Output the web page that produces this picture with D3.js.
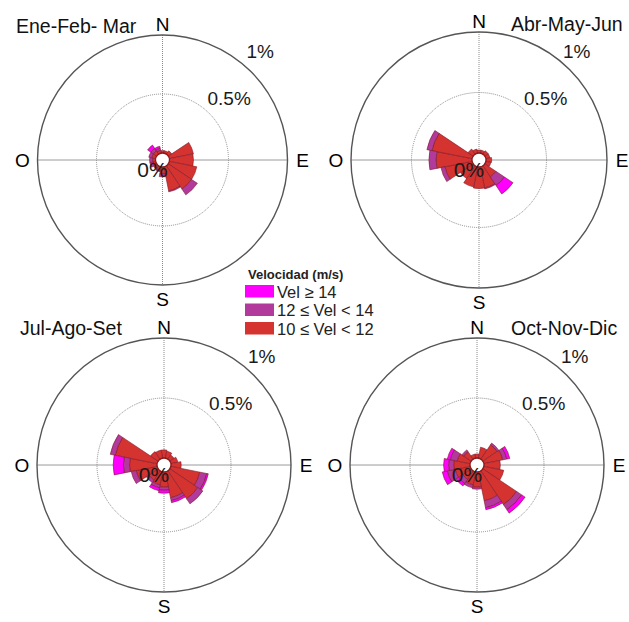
<!DOCTYPE html>
<html>
<head>
<meta charset="utf-8">
<script src="https://cdn.jsdelivr.net/npm/d3@7"></script>
<style>
html,body{margin:0;padding:0;background:#fff;}
svg{display:block;font-family:"Liberation Sans",Arial,sans-serif;}
</style>
</head>
<body>
<svg id="chart" width="629" height="622"></svg>
<script>
// ---- data ----
const directions = ["N","NNE","NE","ENE","E","ESE","SE","SSE","S","SSW","SW","WSW","W","WNW","NW","NNW"];
const seasons = ["Ene-Feb- Mar","Abr-May-Jun","Jul-Ago-Set","Oct-Nov-Dic"];
const speedClasses = ["10 \u2264 Vel < 12","12 \u2264 Vel < 14","Vel \u2265 14"];
const legendTitle = "Velocidad (m/s)";
const radialTicks = [0.5, 1];
const radialTickLabels = ["0.5%","1%"];
const compass = ["N","E","S","O"];

// frequencies (%) per direction, Ene-Feb-Mar
const eneRed     = [0.021,0.021,0.034,0.208,0.203,0.237,0.237,0.208,0.059,0.034,0.025,0.025,0.025,0.034,0.034,0.025];
const enePurple  = [0,0,0,0,0,0,0.059,0.008,0.025,0.008,0.008,0.025,0.025,0.025,0.025,0.017];
const eneMagenta = [0,0,0,0,0,0,0,0,0,0,0,0,0,0,0.034,0.017];
// Abr-May-Jun
const abrRed     = [0.025,0.025,0.034,0.034,0.047,0.042,0.110,0.178,0.178,0.169,0.127,0.229,0.297,0.339,0.051,0.034];
const abrPurple  = [0,0,0,0,0,0,0.085,0.008,0,0,0,0.034,0.059,0.042,0,0];
const abrMagenta = [0,0,0,0,0,0,0.085,0,0,0,0,0,0,0,0,0];
// Jul-Ago-Set
const julRed     = [0.068,0.059,0.042,0.059,0.085,0.246,0.280,0.220,0.127,0.110,0.093,0.178,0.229,0.356,0.076,0.068];
const julPurple  = [0,0,0,0,0,0.059,0.051,0.025,0.025,0.025,0.025,0.042,0.051,0.042,0,0];
const julMagenta = [0,0,0,0,0,0.013,0,0.017,0.025,0.025,0,0,0.085,0,0,0];
// Oct-Nov-Dic
const octRed     = [0.034,0.093,0.144,0.161,0.136,0.169,0.339,0.246,0.127,0.110,0.085,0.127,0.136,0.110,0.076,0.034];
const octPurple  = [0,0,0.017,0.034,0,0,0.051,0.059,0.017,0.025,0.042,0.068,0.042,0.059,0.017,0];
const octMagenta = [0,0,0,0.025,0,0,0.034,0.017,0,0,0.025,0.042,0.042,0.025,0,0];

const seasonSeries = [
  [eneRed, enePurple, eneMagenta],
  [abrRed, abrPurple, abrMagenta],
  [julRed, julPurple, julMagenta],
  [octRed, octPurple, octMagenta]
];

// ---- layout / style ----
const colors = ["#d5332f", "#b23a9c", "#ff00ff"];
const panels = [
  {cx:162.5, cy:160, R:125, title:[16,33]},
  {cx:479,   cy:160, R:128, title:[511,31]},
  {cx:164,   cy:465, R:127, title:[20,335]},
  {cx:477,   cy:465, R:127, title:[511,335]}
];
const hole = 7;

const svg = d3.select("#chart");
const rad = Math.PI/180;
const step = 360/directions.length;

panels.forEach((p, pi) => {
  const g = svg.append("g").attr("transform", `translate(${p.cx},${p.cy})`);
  const r = d3.scaleLinear().domain([0, 1]).range([hole, p.R]);

  // axes lines
  g.append("line").attr("x1", -p.R).attr("x2", p.R).attr("y1", 0).attr("y2", 0)
    .attr("stroke", "#9a9a9a").attr("stroke-width", 1);
  g.append("line").attr("x1", 0).attr("x2", 0).attr("y1", -p.R).attr("y2", p.R)
    .attr("stroke", "#8a8a8a").attr("stroke-width", 1).attr("stroke-dasharray", "1,1");

  // inner dotted circle
  g.append("circle").attr("r", r(radialTicks[0])).attr("fill", "none")
    .attr("stroke", "#8a8a8a").attr("stroke-width", 1).attr("stroke-dasharray", "1,1");
  // outer circle
  g.append("circle").attr("r", r(radialTicks[1])).attr("fill", "none")
    .attr("stroke", "#555").attr("stroke-width", 1.4);

  // stacked bars
  const series = seasonSeries[pi];
  const rows = directions.map((d, i) => ({dir: d, i, s0: series[0][i], s1: series[1][i], s2: series[2][i]}));
  const stacked = d3.stack().keys(["s0","s1","s2"])(rows);
  const arc = d3.arc();
  stacked.forEach((layer, li) => {
    g.append("g").selectAll("path").data(layer.filter(d => d[1] > d[0])).join("path")
      .attr("d", d => arc({
        innerRadius: r(d[0]), outerRadius: r(d[1]),
        startAngle: (d.data.i*step - step/2)*rad,
        endAngle: (d.data.i*step + step/2)*rad
      }))
      .attr("fill", colors[li])
      .attr("stroke", "#7d1a2c").attr("stroke-width", 0.6);
  });

  // hole
  g.append("circle").attr("r", hole).attr("fill", "#fff")
    .attr("stroke", "#8b1a1a").attr("stroke-width", 1.3);

  // 0%
  g.append("text").attr("x", -10).attr("y", 17).attr("text-anchor", "middle")
    .attr("font-size", 21).attr("fill", "#1a1a1a").text("0%");

  // radial labels
  g.append("text").attr("x", 84).attr("y", -102).attr("font-size", 19).attr("fill", "#1a1a1a").text(radialTickLabels[1]);
  g.append("text").attr("x", 45).attr("y", -55).attr("font-size", 19).attr("fill", "#1a1a1a").text(radialTickLabels[0]);

  // compass labels
  const fs = 19;
  g.append("text").attr("x", 0).attr("y", -p.R - 4).attr("text-anchor", "middle").attr("font-size", fs).text(compass[0]);
  g.append("text").attr("x", p.R + 15).attr("y", 7).attr("text-anchor", "middle").attr("font-size", fs).text(compass[1]);
  g.append("text").attr("x", 0).attr("y", p.R + 21).attr("text-anchor", "middle").attr("font-size", fs).text(compass[2]);
  g.append("text").attr("x", -p.R - 15).attr("y", 7).attr("text-anchor", "middle").attr("font-size", fs).text(compass[3]);

  // title
  svg.append("text").attr("x", p.title[0]).attr("y", p.title[1]).attr("font-size", 19.5)
    .attr("fill", "#111").text(seasons[pi]);
});

// legend
const lg = svg.append("g").attr("transform", "translate(245,0)");
lg.append("text").attr("x", 3).attr("y", 279).attr("font-size", 13).attr("font-weight", "bold")
  .attr("fill", "#222").text(legendTitle);
const legendItems = [2, 1, 0];
legendItems.forEach((ci, k) => {
  const y = 285 + k*18.5;
  lg.append("rect").attr("x", 0).attr("y", y).attr("width", 29).attr("height", 12.5).attr("fill", colors[ci]);
  lg.append("text").attr("x", 32).attr("y", y + 12.5).attr("font-size", 16.5).attr("fill", "#222").text(speedClasses[ci]);
});
</script>
</body>
</html>
